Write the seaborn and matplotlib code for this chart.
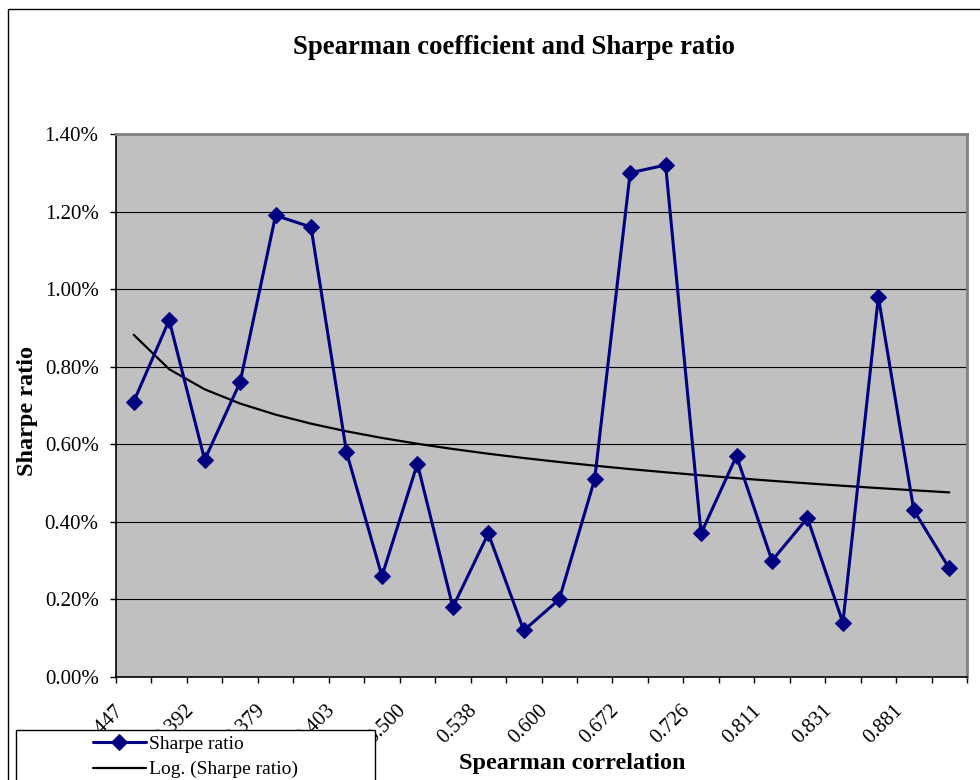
import numpy as np
import pandas as pd
import matplotlib
matplotlib.use("Agg")
import matplotlib.pyplot as plt
import seaborn as sns
from matplotlib.patches import Rectangle
from matplotlib.ticker import FuncFormatter
from matplotlib.transforms import ScaledTranslation

# ---- data ----
title = "Spearman coefficient and Sharpe ratio"
x_title = "Spearman correlation"
y_title = "Sharpe ratio"
series_name = "Sharpe ratio"
trend_name = "Log. (Sharpe ratio)"
# labels shown on every other category
tick_labels = ["0.447", "0.392", "0.379", "0.403", "0.500", "0.538",
               "0.600", "0.672", "0.726", "0.811", "0.831", "0.881"]
# Sharpe ratio (%) for each of the 24 categories
sharpe = [0.71, 0.92, 0.56, 0.76, 1.19, 1.16, 0.58, 0.26, 0.55, 0.18, 0.37, 0.12,
          0.20, 0.51, 1.30, 1.32, 0.37, 0.57, 0.30, 0.41, 0.14, 0.98, 0.43, 0.28]
y_ticks = [0.0, 0.2, 0.4, 0.6, 0.8, 1.0, 1.2, 1.4]

# ---- style ----
sns.set_style("white")
plt.rcParams["font.family"] = ["Liberation Serif", "DejaVu Serif"]
for k in ["text.color", "axes.labelcolor", "xtick.color", "ytick.color"]:
    plt.rcParams[k] = "black"

W, H = 980, 780
fig = plt.figure(figsize=(W / 100, H / 100), dpi=100)
fig.patch.set_facecolor("white")
ax = fig.add_axes([116 / W, 1 - 677 / H, 851 / W, 543 / H])
ax.set_facecolor("#C0C0C0")

n = len(sharpe)
df = pd.DataFrame({"pos": np.arange(n), "sharpe": sharpe})
coef = np.polyfit(np.log(df["pos"] + 1), df["sharpe"], 1)
df["trend"] = np.polyval(coef, np.log(df["pos"] + 1))

sns.lineplot(data=df, x="pos", y="sharpe", ax=ax, color="#000080", lw=2.2,
             marker="D", markersize=8, markeredgecolor="#000080",
             label=series_name, legend=False, zorder=4)
sns.lineplot(data=df, x="pos", y="trend", ax=ax, color="black", lw=1.6,
             label=trend_name, legend=False, zorder=3)

ax.set_xlim(-0.5, n - 0.5)
ax.set_ylim(y_ticks[0], y_ticks[-1])
ax.set_yticks(y_ticks)
ax.yaxis.set_major_formatter(FuncFormatter(lambda v, p: f"{v:.2f}%"))
ax.yaxis.grid(True, color="black", lw=0.8)
ax.xaxis.grid(False)
ax.set_axisbelow(True)

ax.set_xticks(np.arange(0, n, 2))
ax.set_xticklabels(tick_labels, rotation=45, ha="right")
ax.set_xticks(np.arange(-0.5, n, 1), minor=True)
ax.tick_params(axis="x", which="major", bottom=True, length=0, pad=17.5, labelsize=15)
ax.tick_params(axis="x", which="minor", bottom=True, length=4, width=1,
               color="black", direction="out")
ax.tick_params(axis="y", left=True, length=4.5, width=1, color="black",
               direction="out", pad=8, labelsize=15)
shift = ScaledTranslation(-7 / 100, 0, fig.dpi_scale_trans)
for lab in ax.get_xticklabels():
    lab.set_transform(lab.get_transform() + shift)

for s in ["left", "bottom"]:
    ax.spines[s].set_color("black")
    ax.spines[s].set_linewidth(1.2)
for s in ["top", "right"]:
    ax.spines[s].set_color("#808080")
    ax.spines[s].set_linewidth(2)

ax.set_xlabel(x_title, fontsize=17.5, fontweight="bold", va="center")
ax.xaxis.set_label_coords((572 - 116) / 851, (677 - 763) / 543)
ax.set_ylabel(y_title, fontsize=17.5, fontweight="bold", va="center")
ax.yaxis.set_label_coords((27 - 116) / 851, (677 - 411) / 543)
ax.set_title(title, fontsize=19.3, fontweight="bold",
             x=(514 - 116) / 851, y=(677 - 56) / 543, va="center")

# outer chart border
fig.add_artist(Rectangle((8 / W, -0.5), 2, 1.5 - 9 / H, transform=fig.transFigure,
                         facecolor="none", edgecolor="black", lw=1, zorder=0.5))
# legend box
fig.add_artist(Rectangle((16 / W, -0.5), (375 - 16) / W, 0.5 + 1 - 730 / H,
                         transform=fig.transFigure, facecolor="white",
                         edgecolor="black", lw=1, zorder=3))
handles = ax.lines[:2]
leg = fig.legend(handles, [h.get_label() for h in handles], loc="upper left",
                 bbox_to_anchor=(93 / W, 1 - 735 / H), frameon=False, fontsize=14,
                 handlelength=2.7, handletextpad=0.2, labelspacing=0.42,
                 borderpad=0, borderaxespad=0)
leg.set_zorder(5)

fig.savefig("out.png", dpi=100, facecolor="white")
